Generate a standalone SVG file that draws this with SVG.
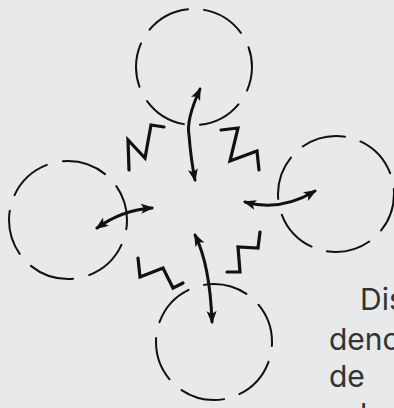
<svg xmlns="http://www.w3.org/2000/svg" width="394" height="408" viewBox="0 0 394 408">
  <style>
    .node circle { fill: none; stroke: #111; stroke-width: 2; stroke-dasharray: 44 16; stroke-linecap: round; }
    .arrow { fill: none; stroke: #111; stroke-width: 3; stroke-linecap: round; marker-start: url(#head); marker-end: url(#head); }
    .zig { fill: none; stroke: #111; stroke-width: 3.2; stroke-linejoin: miter; stroke-linecap: round; }
    .label { font-family: Inter, "Noto Sans", sans-serif; font-size: 30px; fill: #333; }
  </style>
  <defs>
    <marker id="head" viewBox="0 0 13 11" refX="11" refY="5.5" markerWidth="13" markerHeight="11" markerUnits="userSpaceOnUse" orient="auto-start-reverse">
      <path d="M0,0.5 L13,5.5 L0,10.5 L3,5.5 Z" fill="#111"/>
    </marker>
  </defs>
  <rect width="394" height="408" fill="#e8e9eb"/>
  <g id="node-top" class="node"><circle cx="194" cy="67" r="58" pathLength="360" stroke-dashoffset="20"/></g>
  <g id="node-left" class="node"><circle cx="68" cy="220" r="59" pathLength="360" stroke-dashoffset="35"/></g>
  <g id="node-right" class="node"><circle cx="336" cy="194" r="58" pathLength="360" stroke-dashoffset="5"/></g>
  <g id="node-bottom" class="node"><circle cx="214" cy="342" r="58" pathLength="360" stroke-dashoffset="40"/></g>
  <g id="connectors">
    <path class="arrow" d="M200,89 Q186,120 189,135 Q191,160 195,180"/>
    <path class="arrow" d="M97,228 Q122,210 152,208"/>
    <path class="arrow" d="M245,202 Q280,212 315,191"/>
    <path class="arrow" d="M195,235 Q210,265 212,322"/>
    <path class="zig" d="M164,127 L151,125 L145,158 L128,140 L129,170"/>
    <path class="zig" d="M221,130 L238,128 L230,161 L257,151 L259,170"/>
    <path class="zig" d="M138,258 L140,277 L163,268 L173,288 L183,283"/>
    <path class="zig" d="M260,232 L258,248 L238,247 L240,272 L227,272"/>
  </g>
  <g id="caption" class="label">
    <text x="360" y="310">Dis</text>
    <text x="329" y="350">denc</text>
    <text x="329" y="387">de</text>
    <text x="360" y="425">l</text>
  </g>
</svg>
